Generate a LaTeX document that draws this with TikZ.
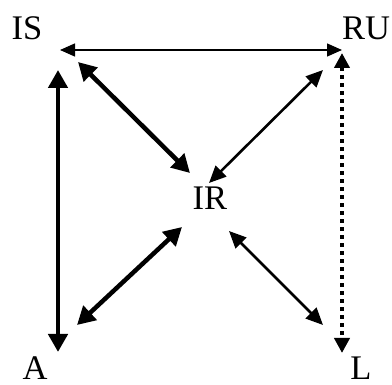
\documentclass[tikz,border=0pt]{standalone}
\usepackage{fontspec}
\setmainfont{Liberation Serif}
\usetikzlibrary{arrows.meta}
\begin{document}
\begin{tikzpicture}[x=1pt,y=-1pt,
  lbl/.style={inner sep=0pt,font=\fontsize{34.5}{34.5}\selectfont},
  thinar/.style={line width=1.4pt,{Triangle[length=15pt,width=13pt]}-{Triangle[length=15pt,width=13pt]}},
  medar/.style={line width=2.6pt,{Triangle[length=17pt,width=15pt]}-{Triangle[length=17pt,width=15pt]}},
  thickar/.style={line width=4.5pt,{Triangle[length=18pt,width=19pt]}-{Triangle[length=18pt,width=19pt]}},
  dotar/.style={line width=4pt,dash pattern=on 4pt off 4pt,{Triangle[length=15pt,width=15pt]}-{Triangle[length=15pt,width=15pt]}}]
\useasboundingbox (0,0) rectangle (392,385);
\node[lbl] (IS) at (27,28) {IS};
\node[lbl] (RU) at (366,28) {RU};
\node[lbl] (IR) at (210,198) {IR};
\node[lbl] (A) at (35,368) {A};
\node[lbl] (L) at (361,368) {L};
\coordinate (ISr) at (60,50);   \coordinate (RUl) at (342,50);
\coordinate (ISd) at (58,70);   \coordinate (Au) at (58,352);
\coordinate (ISx) at (78,62);   \coordinate (IRa) at (190,173);
\coordinate (RUx) at (323,70);  \coordinate (IRb) at (209,183);
\coordinate (RUd) at (342,53);  \coordinate (Lu) at (342,353);
\coordinate (IRc) at (182,227); \coordinate (Ax) at (77,325);
\coordinate (IRd) at (229,231); \coordinate (Lx) at (323,325);
\draw[thinar] (ISr) -- (RUl);
\draw[thickar] (ISd) -- (Au);
\draw[thickar] (ISx) -- (IRa);
\draw[medar] (RUx) -- (IRb);
\draw[dotar] (RUd) -- (Lu);
\draw[thickar] (IRc) -- (Ax);
\draw[medar] (IRd) -- (Lx);
\end{tikzpicture}
\end{document}
